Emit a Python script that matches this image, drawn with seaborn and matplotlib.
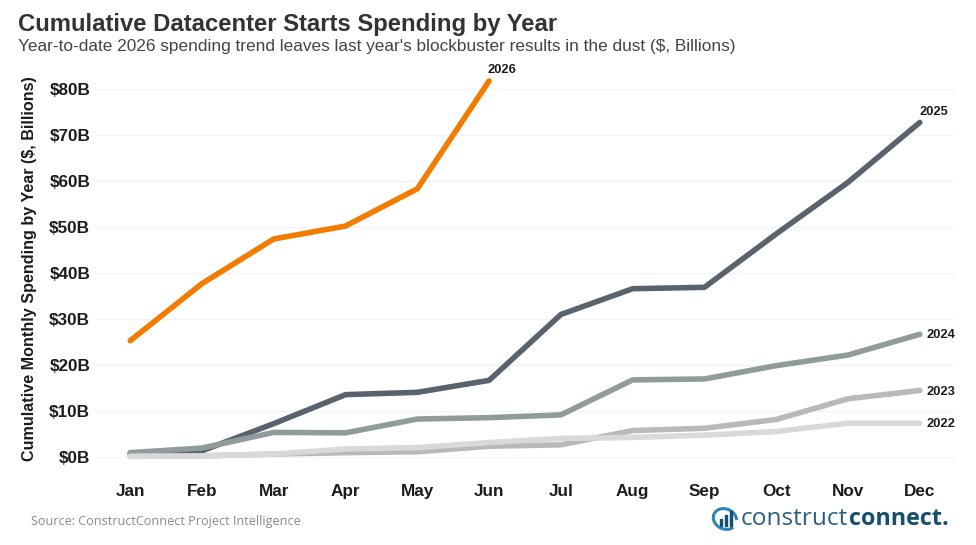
import numpy as np
import pandas as pd
import matplotlib.pyplot as plt
import seaborn as sns
from matplotlib.patches import Arc, Rectangle

months = ["Jan", "Feb", "Mar", "Apr", "May", "Jun", "Jul", "Aug", "Sep", "Oct", "Nov", "Dec"]
spend_2026 = [25.3, 37.7, 47.4, 50.2, 58.3, 81.7]
spend_2025 = [0.8, 1.4, 7.3, 13.6, 14.1, 16.7, 31.0, 36.6, 36.9, 48.5, 59.7, 72.7]
spend_2024 = [1.0, 2.0, 5.4, 5.3, 8.3, 8.6, 9.2, 16.8, 17.0, 19.9, 22.2, 26.7]
spend_2023 = [0.2, 0.3, 0.7, 1.0, 1.2, 2.4, 2.7, 5.8, 6.3, 8.2, 12.7, 14.5]
spend_2022 = [0.2, 0.3, 0.7, 1.8, 2.1, 3.2, 4.1, 4.3, 4.8, 5.6, 7.4, 7.4]
yticks = [0, 10, 20, 30, 40, 50, 60, 70, 80]

series = {"2026": spend_2026, "2025": spend_2025, "2024": spend_2024,
          "2023": spend_2023, "2022": spend_2022}
colors = {"2026": "#f27c00", "2025": "#58636d", "2024": "#8f9c9b",
          "2023": "#b7bab9", "2022": "#d9d9d9"}

rows = []
for year, vals in series.items():
    for m, v in zip(months, vals):
        rows.append({"Year": year, "Month": m, "Spend": v})
df = pd.DataFrame(rows)

sns.set_theme(style="white")
plt.rcParams["font.family"] = ["Liberation Sans", "DejaVu Sans"]

fig = plt.figure(figsize=(9.76, 5.45), dpi=100)
ax = fig.add_axes([95 / 976, 1 - 478 / 545, (955 - 95) / 976, (478 - 63) / 545])

sns.lineplot(data=df, x="Month", y="Spend", hue="Year", hue_order=list(series),
             palette=colors, linewidth=4.0, legend=False, sort=False,
             solid_capstyle="round", solid_joinstyle="round", ax=ax)

ax.set_xlim(-0.49, 11.49)
ax.set_ylim(-4.5, 85.6)
ax.set_xticks(range(len(months)))
ax.set_xticklabels(months)
ax.set_yticks(yticks)
ax.set_yticklabels([f"${t}B" for t in yticks])
ax.tick_params(axis="both", length=0, labelsize=12.3, labelcolor="#1c1c1c")
ax.tick_params(axis="x", pad=4.5)
ax.tick_params(axis="y", pad=3.5)
for lab in ax.get_xticklabels() + ax.get_yticklabels():
    lab.set_fontweight("bold")
ax.grid(axis="y", color="#f3f3f3", linewidth=0.8)
ax.set_axisbelow(True)
sns.despine(ax=ax, left=True, bottom=True)
ax.set_xlabel("")
ax.set_ylabel("")
fig.text(30 / 976, 1 - 268.5 / 545, "Cumulative Monthly Spending by Year ($, Billions)", fontsize=11.6,
         fontweight="bold", color="#1c1c1c", rotation=90, ha="center", va="center")

# end of line labels
ax.annotate("2026", (5, spend_2026[-1]), xytext=(-1, 3.5), textcoords="offset points",
            fontsize=9.3, fontweight="bold", color="#1c1c1c", va="bottom")
ax.annotate("2025", (11, spend_2025[-1]), xytext=(0, 3), textcoords="offset points",
            fontsize=9.3, fontweight="bold", color="#1c1c1c", va="bottom")
for year in ["2024", "2023", "2022"]:
    ax.annotate(year, (11, series[year][-1]), xytext=(4.5, -0.8), textcoords="offset points",
                fontsize=9.3, fontweight="bold", color="#1c1c1c", va="center")

fig.text(18 / 976, 1 - 24 / 545, "Cumulative Datacenter Starts Spending by Year", fontsize=17.2,
         fontweight="bold", color="#333333", va="center")
fig.text(18 / 976, 1 - 46 / 545,
         "Year-to-date 2026 spending trend leaves last year's blockbuster results in the dust ($, Billions)",
         fontsize=12.45, color="#444444", va="center")
fig.text(31 / 976, 1 - 521.5 / 545, "Source: ConstructConnect Project Intelligence", fontsize=9.1,
         color="#8a8a8a", family="Open Sans", va="center")

# logo: wordmark and small icon
fig.text(741 / 976, 1 - 519 / 545, "construct", fontsize=17.6, color="#2f5f80", family="Open Sans",
         va="center")
fig.text(849 / 976, 1 - 519 / 545, "connect.", fontsize=16.8, color="#17506f", family="Open Sans",
         fontweight="bold", va="center")
icon = fig.add_axes([711 / 976, 1 - 531 / 545, 28 / 976, 24 / 545])
icon.set_xlim(0, 28)
icon.set_ylim(0, 24)
icon.axis("off")
icon.add_patch(Arc((14, 12), 24, 20, angle=-25, theta1=20, theta2=340, color="#2e86b8", linewidth=2.2))
for bar_x, bar_h in zip([9, 14, 19], [7, 11, 15]):
    icon.add_patch(Rectangle((bar_x, 5), 2.4, bar_h, color="#17506f"))

fig.savefig("out.png", dpi=100)
